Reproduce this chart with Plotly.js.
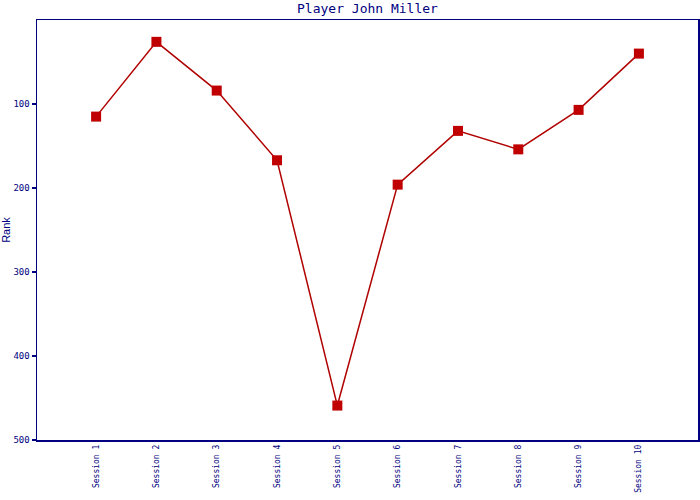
<!DOCTYPE html>
<html>
<head>
<meta charset="utf-8">
<script src="https://cdn.plot.ly/plotly-3.0.1.min.js"></script>
<style>html,body{margin:0;padding:0;background:#fff;}#chart{width:700px;height:500px;}</style>
</head>
<body>
<div id="chart"></div>
<script>
const sessions = ["Session 1","Session 2","Session 3","Session 4","Session 5","Session 6","Session 7","Session 8","Session 9","Session 10"];
const ranks = [115, 26, 84, 167, 459, 196, 132, 154, 107, 40];
const yTicks = [100, 200, 300, 400, 500];

const navy = "#000080";
const trace = {
  x: sessions,
  y: ranks,
  type: "scatter",
  mode: "lines+markers",
  line: {color: "#b00000", width: 1.5},
  marker: {symbol: "square", size: 10, color: "#c00000"},
  hoverinfo: "x+y"
};
const layout = {
  width: 700, height: 500,
  margin: {l: 37, r: 2, t: 20, b: 60},
  paper_bgcolor: "#fff", plot_bgcolor: "#fff",
  showlegend: false,
  title: {text: "Player John Miller", font: {family: "DejaVu Sans Mono", size: 13, color: navy}, x: 0.525, xanchor: "center", y: 0.984, yanchor: "middle"},
  xaxis: {
    type: "category",
    range: [-0.98, 9.98],
    tickangle: -90,
    showgrid: false, zeroline: false,
    showline: true, linecolor: navy, linewidth: 1.5, mirror: true,
    ticks: "", tickfont: {family: "DejaVu Sans Mono", size: 8, color: navy}
  },
  yaxis: {
    range: [500, 0],
    tickvals: yTicks,
    ticktext: yTicks.map(String),
    showgrid: false, zeroline: false,
    showline: true, linecolor: navy, linewidth: 1.5, mirror: true,
    ticks: "outside", ticklen: 4, tickcolor: navy, tickwidth: 1.5,
    tickfont: {family: "DejaVu Sans Mono", size: 9, color: navy},
    title: {text: "Rank", font: {family: "Liberation Sans", size: 11, color: navy}, standoff: 6}
  }
};
Plotly.newPlot("chart", [trace], layout, {displayModeBar: false, staticPlot: true});
</script>
</body>
</html>
